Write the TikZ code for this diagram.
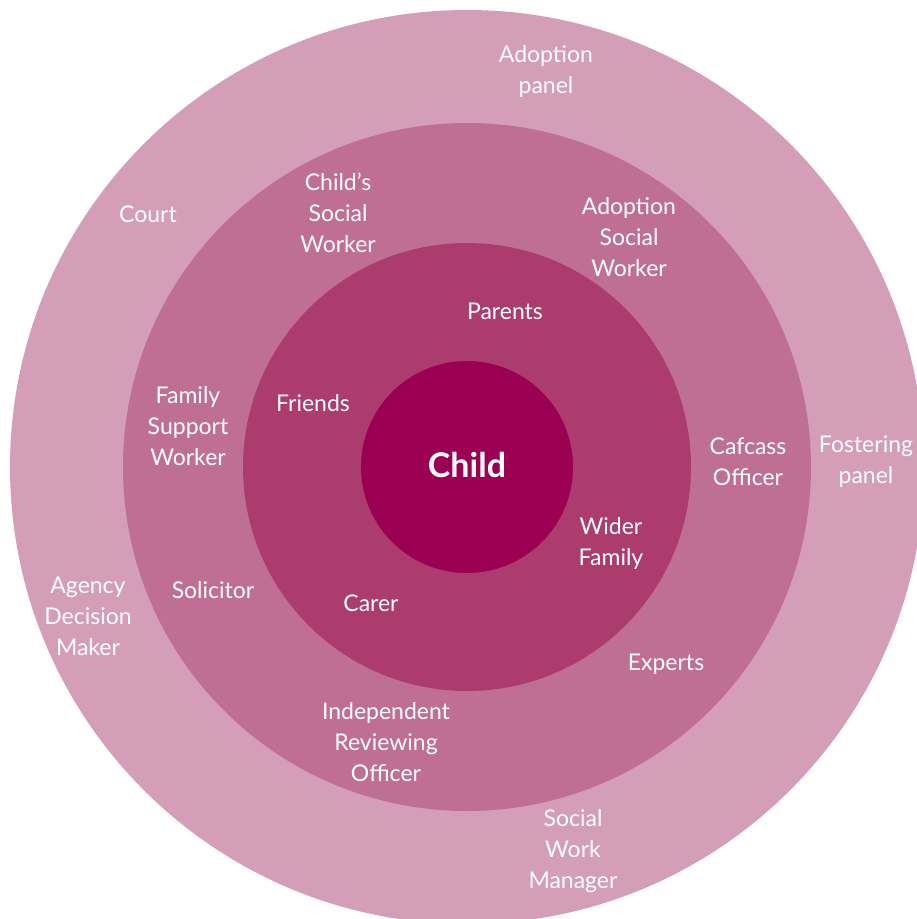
\documentclass[tikz,border=0pt]{standalone}
\usepackage{fontspec}
\setmainfont{Lato}
\usetikzlibrary{positioning}

\definecolor{ringOuter}{HTML}{D49EB9}
\definecolor{ringSecond}{HTML}{C06F94}
\definecolor{ringThird}{HTML}{AC3C6E}
\definecolor{ringCore}{HTML}{9C0052}

\begin{document}
\begin{tikzpicture}[x=1pt,y=-1pt,
    lbl/.style={text=white, align=center, inner sep=0pt,
      font=\fontsize{23}{31}\selectfont},
    core/.style={text=white, font=\fontsize{34}{40}\selectfont\bfseries}]
    \useasboundingbox (0,0) rectangle (917,919);
    \clip (0,0) rectangle (917,919);
    % rings, outside in
    \fill [ringOuter] (467,467) circle (457);
    \fill [ringSecond] (467,467) circle (344);
    \fill [ringThird] (467,467) circle (224);
    \fill [ringCore] (467,467) circle (106);
    \node [core] (child) at (467,465) {Child};
    % inner ring
    \node [lbl] (parents) at (505,311) {Parents};
    \node [lbl] (friends) at (313,403) {Friends};
    \node [lbl] (wider) at (611,543) {Wider\\Family};
    \node [lbl] (carer) at (371,603) {Carer};
    % middle ring
    \node [lbl] (csw) at (338,213) {Child’s\\Social\\Worker};
    \node [lbl] (asw) at (629,237) {Adoption\\Social\\Worker};
    \node [lbl] (fsw) at (188,426) {Family\\Support\\Worker};
    \node [lbl] (cafcass) at (748,462) {Cafcass\\Officer};
    \node [lbl] (solicitor) at (213,590) {Solicitor};
    \node [lbl] (experts) at (666,664) {Experts};
    \node [lbl] (iro) at (386,742) {Independent\\Reviewing\\Officer};
    % outer ring
    \node [lbl] (apanel) at (546,71) {Adoption\\panel};
    \node [lbl] (court) at (148,214) {Court};
    \node [lbl] (fpanel) at (866,462) {Fostering\\panel};
    \node [lbl] (adm) at (88,616) {Agency\\Decision\\Maker};
    \node [lbl] (swm) at (573,851) {Social\\Work\\Manager};
\end{tikzpicture}
\end{document}
